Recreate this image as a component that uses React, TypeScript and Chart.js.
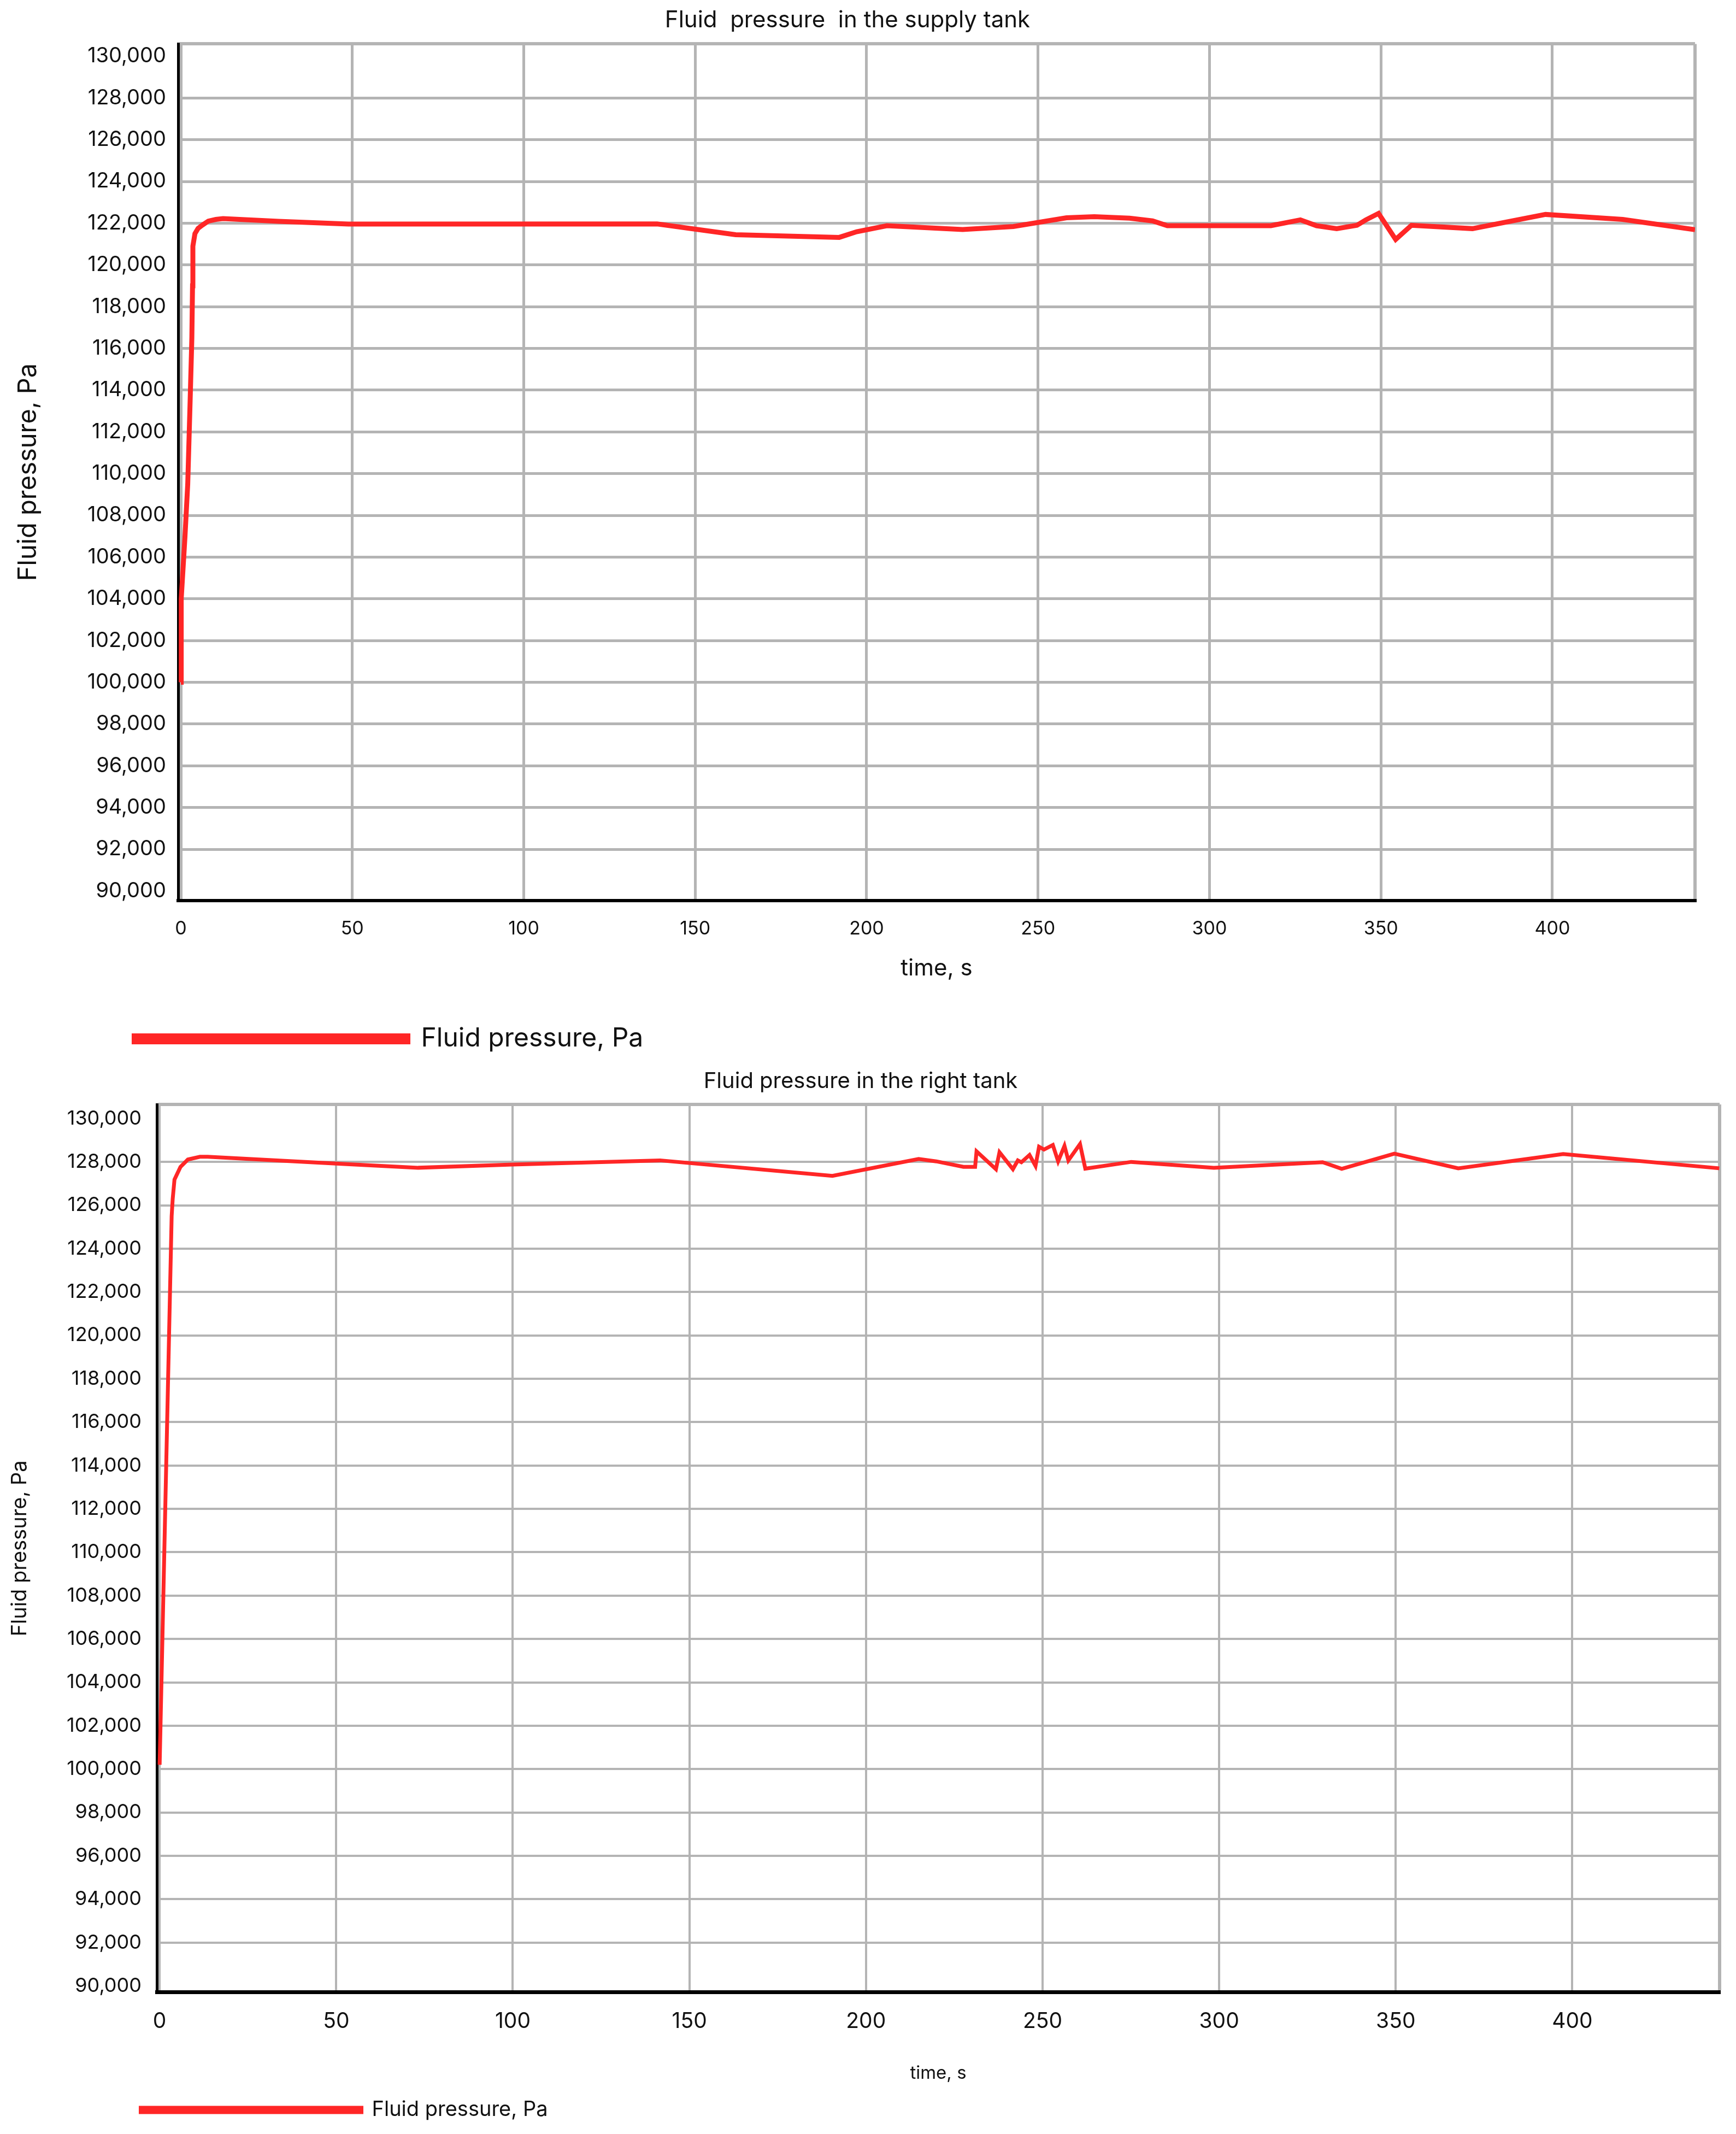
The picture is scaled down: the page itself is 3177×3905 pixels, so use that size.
import React, { useEffect, useRef } from 'react';
import { Chart, registerables } from 'chart.js';

Chart.register(...registerables);

// ---------------- data ----------------
const supplyTime = [0, 0.1, 1.2, 2.0, 2.7, 3.2, 3.4, 3.5, 4.1, 5.0, 6.2, 8.0, 10.2, 12.3, 28.5, 48.9, 138.9, 161.8, 192.0, 197.1, 205.9, 228.0, 242.8, 258.3, 266.4, 276.7, 283.4, 287.7, 317.9, 326.5, 331.2, 337.1, 343.0, 345.6, 349.3, 354.3, 358.9, 376.7, 398.0, 420.5, 441.6];
const supplyPressure = [100000, 104000, 107000, 109500, 113500, 116500, 119000, 120900, 121500, 121750, 121900, 122100, 122180, 122220, 122090, 121960, 121965, 121450, 121320, 121590, 121880, 121700, 121840, 122260, 122310, 122240, 122110, 121880, 121880, 122160, 121880, 121740, 121900, 122160, 122470, 121220, 121900, 121740, 122420, 122180, 121690];

const rightTime = [0, 3.4, 3.7, 4.2, 5.9, 8.0, 11.4, 13.6, 50.0, 73.2, 99.9, 141.7, 190.5, 214.9, 219.9, 227.6, 230.9, 231.3, 236.8, 237.8, 241.6, 243.0, 244.0, 246.3, 248.0, 249.0, 250.4, 252.9, 254.4, 256.2, 257.3, 260.6, 262.1, 275.1, 298.5, 329.3, 334.7, 349.6, 367.7, 397.4, 441.6];
const rightPressure = [100200, 125500, 126300, 127185, 127770, 128110, 128235, 128235, 127925, 127730, 127875, 128070, 127354, 128134, 128025, 127774, 127774, 128487, 127664, 128445, 127664, 128067, 127983, 128319, 127815, 128697, 128571, 128781, 128025, 128739, 128067, 128823, 127690, 128000, 127730, 127985, 127680, 128380, 127705, 128360, 127705];

const supplyTitle = 'Fluid  pressure  in the supply tank';
const rightTitle = 'Fluid pressure in the right tank';
const seriesLabel = 'Fluid pressure, Pa';
const xAxisTitle = 'time, s';
const yAxisTitle = 'Fluid pressure, Pa';
const pressureStep = 2000;
const timeStep = 50;
const unlinedPressureTicks = [130000, 90000];

// ---------------- styles ----------------
const RED = '#ff2626';
const GRAY = '#b4b4b4';
const TEXT = '#111111';
const WIDTH = 3177;

Chart.defaults.font.family = 'Inter, "Noto Sans", sans-serif';
Chart.defaults.color = TEXT;

type Cfg = {
  height: number;
  title: string; titleSize: number; titlePad: { top: number; bottom: number };
  times: number[]; values: number[];
  xMin: number; xMax: number; yMin: number; yMax: number;
  yWidth: number; padRight: number; padBottom: number;
  yTickSize: number; yTickPad: number; yTitleSize: number; yTitlePad: number;
  xTickSize: number; xTickPad: number; xTitleSize: number; xTitlePad: { top: number; bottom: number };
  legendSize: number; legendBoxW: number; legendBoxH: number; legendLeft: number;
  lineWidth: number; gridWidth: number; edgeWidth: number; xBorderWidth: number; yBorderWidth: number;
};

// ticks at every multiple of the step inside the range, plus the range end (the frame edge)
const stepTicks = (step: number) => (s: any) => {
  const ticks: { value: number }[] = [];
  for (let v = Math.ceil(s.min / step) * step; v <= s.max + 1e-9; v += step) ticks.push({ value: v });
  if (ticks.length === 0 || ticks[ticks.length - 1].value !== s.max) ticks.push({ value: s.max });
  s.ticks = ticks;
};

const legendShift = (left: number) => ({
  id: 'legendShift',
  afterLayout(chart: any) {
    const lg = chart.legend;
    if (!lg) return;
    const w = lg.width;
    lg.left = left;
    lg.right = left + w;
  },
});

function PressureChart({ cfg }: { cfg: Cfg }) {
  const ref = useRef<HTMLCanvasElement>(null);
  useEffect(() => {
    const c = cfg;
    const chart = new Chart(ref.current as HTMLCanvasElement, {
      type: 'line',
      data: {
        datasets: [
          {
            label: seriesLabel,
            data: c.times.map((t, i) => ({ x: t, y: c.values[i] })),
            borderColor: RED,
            backgroundColor: RED,
            borderWidth: c.lineWidth,
            pointRadius: 0,
            pointHoverRadius: 0,
            tension: 0,
            fill: false,
            borderJoinStyle: 'miter',
          } as any,
        ],
      },
      options: {
        responsive: false,
        animation: false,
        devicePixelRatio: 1,
        events: [],
        layout: { padding: { left: 0, right: c.padRight, top: 0, bottom: c.padBottom } },
        plugins: {
          title: {
            display: true,
            text: c.title,
            color: TEXT,
            font: { size: c.titleSize, weight: 'normal' },
            padding: c.titlePad,
          },
          legend: {
            display: true,
            position: 'bottom',
            align: 'start',
            labels: {
              boxWidth: c.legendBoxW,
              boxHeight: c.legendBoxH,
              padding: 10,
              color: TEXT,
              font: { size: c.legendSize },
            },
          },
          tooltip: { enabled: false },
        },
        scales: {
          x: {
            type: 'linear',
            bounds: 'data',
            min: c.xMin,
            max: c.xMax,
            afterBuildTicks: stepTicks(timeStep),
            ticks: {
              autoSkip: false,
              maxRotation: 0,
              padding: c.xTickPad,
              color: TEXT,
              font: { size: c.xTickSize },
              callback: (v: any) => (v === c.xMax ? '' : String(v)),
            },
            grid: {
              color: GRAY,
              lineWidth: (ctx: any) => (ctx.tick && ctx.tick.value === c.xMax ? c.edgeWidth : c.gridWidth),
              drawTicks: false,
            },
            border: { color: '#000', width: c.xBorderWidth },
            title: {
              display: true,
              text: xAxisTitle,
              color: TEXT,
              font: { size: c.xTitleSize },
              padding: c.xTitlePad,
            },
          },
          y: {
            type: 'linear',
            bounds: 'data',
            min: c.yMin,
            max: c.yMax,
            afterBuildTicks: stepTicks(pressureStep),
            afterFit: (s: any) => {
              s.width = c.yWidth;
            },
            ticks: {
              autoSkip: false,
              padding: c.yTickPad,
              color: TEXT,
              font: { size: c.yTickSize },
              callback: (v: any) => (v === c.yMax ? '' : Number(v).toLocaleString('en-US')),
            },
            grid: {
              color: (ctx: any) =>
                ctx.tick && unlinedPressureTicks.includes(ctx.tick.value) ? 'rgba(0,0,0,0)' : GRAY,
              lineWidth: (ctx: any) => (ctx.tick && ctx.tick.value === c.yMax ? c.edgeWidth : c.gridWidth),
              drawTicks: false,
            },
            border: { color: '#000', width: c.yBorderWidth },
            title: {
              display: true,
              text: yAxisTitle,
              color: TEXT,
              font: { size: c.yTitleSize },
              padding: { top: c.yTitlePad, bottom: 0 },
            },
          },
        },
      } as any,
      plugins: [legendShift(c.legendLeft)],
    });
    return () => chart.destroy();
  }, [cfg]);
  return (
    <canvas
      ref={ref}
      width={WIDTH}
      height={cfg.height}
      style={{ display: 'block', width: WIDTH, height: cfg.height }}
    />
  );
}

const topCfg: Cfg = {
  height: 1935,
  title: supplyTitle, titleSize: 42, titlePad: { top: 12, bottom: 18 },
  times: supplyTime, values: supplyPressure,
  xMin: -0.8, xMax: 441.6, yMin: 89545, yMax: 130590,
  yWidth: 326, padRight: 75, padBottom: 0,
  yTickSize: 38, yTickPad: 22, yTitleSize: 47, yTitlePad: 24,
  xTickSize: 34, xTickPad: 32, xTitleSize: 42, xTitlePad: { top: -5, bottom: 69 },
  legendSize: 48, legendBoxW: 501, legendBoxH: 11, legendLeft: 235.5,
  lineWidth: 9, gridWidth: 5, edgeWidth: 6, xBorderWidth: 6, yBorderWidth: 5,
};

const bottomCfg: Cfg = {
  height: 1970,
  title: rightTitle, titleSize: 40, titlePad: { top: 20, bottom: 18 },
  times: rightTime, values: rightPressure,
  xMin: -0.8, xMax: 441.7, yMin: 89710, yMax: 130650,
  yWidth: 287, padRight: 27, padBottom: 15,
  yTickSize: 36, yTickPad: 28, yTitleSize: 38, yTitlePad: 14,
  xTickSize: 39, xTickPad: 30, xTitleSize: 33, xTitlePad: { top: 22, bottom: 18 },
  legendSize: 38, legendBoxW: 404, legendBoxH: 8, legendLeft: 247.5,
  lineWidth: 7, gridWidth: 4, edgeWidth: 6, xBorderWidth: 7, yBorderWidth: 5,
};

export default function App() {
  if (typeof document !== 'undefined') {
    document.body.style.margin = '0';
    document.body.style.background = '#ffffff';
  }
  return (
    <div style={{ width: WIDTH, background: '#ffffff' }}>
      <PressureChart cfg={topCfg} />
      <PressureChart cfg={bottomCfg} />
    </div>
  );
}
